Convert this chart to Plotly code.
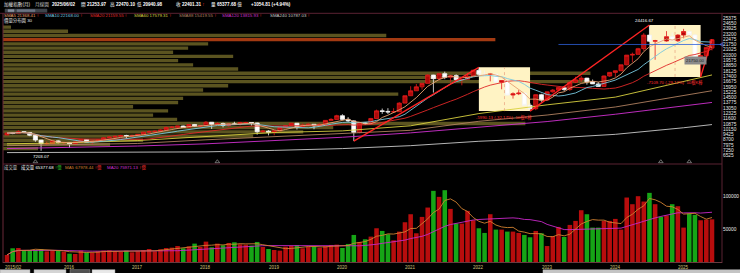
import pandas as pd
import plotly.graph_objects as go

# ---------------- data ----------------
months = [p.strftime('%Y/%m') for p in pd.period_range('2015-02', '2025-06', freq='M')]

open_ = [
    9361, 9622, 9586, 9820, 9701, 9323, 8665, 8175, 8181, 8554, 8320,
    8338, 8145, 8411, 8745, 8377, 8536, 8667, 8984, 9069, 9167, 9290, 9240,
    9254, 9448, 9750, 9812, 9872, 10041, 10395, 10427, 10586, 10384, 10794, 10560,
    10643, 11104, 10816, 10919, 10658, 10875, 10837, 11057, 11064, 11006, 9802, 9888,
    9727, 9932, 10389, 10641, 10968, 10498, 10731, 10824, 10618, 10830, 11358, 11490,
    11997, 11495, 11292, 9708, 10993, 10943, 11621, 12665, 12592, 12516, 12546, 13723,
    14733, 15410, 15953, 16431, 17567, 17068, 17755, 17247, 17490, 16935, 16987, 17428,
    18219, 17674, 17652, 17693, 16593, 16808, 14826, 15000, 15095, 13425, 12950, 14880,
    14138, 15265, 15504, 15869, 15580, 16579, 16916, 17145, 16635, 16354, 16001, 17434,
    17931, 18151, 18967, 20295, 20397, 21175, 23033, 22199, 22268, 22225, 22820, 22263,
    23035, 23525, 23053, 19802, 20235, 21253.97]
high_ = [
    9690, 9710, 10014, 9880, 9720, 9450, 8700, 8470, 8700, 8660, 8400,
    8350, 8480, 8800, 8770, 8560, 8740, 9060, 9160, 9290, 9390, 9390, 9400,
    9480, 9780, 9970, 9970, 10100, 10500, 10560, 10600, 10640, 10800, 10870, 10670,
    11270, 11100, 11110, 11050, 11000, 11170, 11150, 11160, 11100, 11050, 10060, 10030,
    10020, 10400, 10690, 11000, 11010, 10900, 10960, 10840, 10940, 11400, 11660, 12130,
    12200, 11800, 11390, 11030, 11100, 11700, 12830, 12980, 13030, 13030, 13840, 14760,
    16030, 16340, 16450, 17660, 17600, 17790, 18030, 17580, 17670, 17010, 17860, 18300,
    18619.61, 18180, 17850, 17700, 16830, 16820, 15200, 15500, 15200, 13700, 14880, 15000,
    15300, 15660, 15900, 16000, 16600, 17330, 17460, 17200, 16950, 16600, 17500, 17950,
    18170, 18980, 20300, 20640, 21290, 23300, 24416.67, 22380, 22400, 23580, 23400, 23160,
    23890, 23700, 23200, 20400, 21400, 22470.10]
low_ = [
    9340, 9470, 9550, 9580, 9200, 8430, 7203.07, 8000, 8150, 8200, 8050,
    7630, 8060, 8400, 8350, 8070, 8370, 8620, 8950, 8950, 9140, 8880, 9050,
    9220, 9440, 9700, 9670, 9830, 9980, 10290, 10260, 10310, 10360, 10460, 10400,
    10640, 10190, 10770, 10400, 10490, 10740, 10660, 10810, 10640, 9400, 9630, 9310,
    9320, 9900, 10280, 10600, 10100, 10450, 10620, 10150, 10600, 10700, 11340, 11470,
    11450, 11100, 8524, 9600, 10740, 10940, 11620, 12250, 12230, 12420, 12540, 13700,
    14720, 15400, 15570, 16430, 15160, 16810, 17000, 16580, 16700, 16160, 16950, 17400,
    17450, 17300, 16700, 16500, 15620, 14760, 14340, 14820, 13420, 12629.48, 12760, 13900,
    14120, 15150, 15400, 15380, 15400, 16470, 16600, 16250, 16330, 16000, 16000, 17330,
    17320, 18130, 18900, 19340, 20380, 20880, 22100, 19660, 20900, 22140, 22100, 22100,
    22600, 22800, 19700, 17306.97, 19900, 20940.98]
close_ = [
    9622, 9586, 9820, 9701, 9323, 8665, 8175, 8181, 8554, 8320, 8338,
    8145, 8411, 8745, 8377, 8536, 8667, 8984, 9069, 9167, 9290, 9240, 9254,
    9448, 9750, 9812, 9872, 10041, 10395, 10427, 10586, 10384, 10794, 10560, 10643,
    11104, 10816, 10919, 10658, 10875, 10837, 11057, 11064, 11006, 9802, 9888, 9727,
    9932, 10389, 10641, 10968, 10498, 10731, 10824, 10618, 10830, 11358, 11490, 11997,
    11495, 11292, 9708, 10993, 10943, 11621, 12665, 12592, 12516, 12546, 13723, 14733,
    15410, 15953, 16431, 17567, 17068, 17755, 17247, 17490, 16935, 16987, 17428, 18219,
    17674, 17652, 17693, 16593, 16808, 14826, 15000, 15095, 13425, 12950, 14880, 14138,
    15265, 15504, 15869, 15580, 16579, 16916, 17145, 16635, 16354, 16001, 17434, 17931,
    18151, 18967, 20295, 20397, 21175, 23033, 22199, 22268, 22225, 22820, 22263, 23035,
    23525, 23053, 19802, 20235, 21347, 22401.31]
volume = [  # 億
    12000, 22000, 22500, 19500, 19500, 19500, 20500, 17500, 18000, 18000, 17000,
    14000, 13500, 18500, 16000, 15500, 17500, 18500, 19000, 18000, 16500, 18500, 16000,
    17500, 19000, 21000, 17500, 20500, 22500, 23000, 25500, 22000, 25000, 29000, 24000,
    32000, 23500, 29000, 26500, 30000, 31000, 28000, 27500, 26000, 31500, 24000, 21000,
    19500, 18500, 24500, 25500, 26500, 22000, 24500, 25000, 23000, 25500, 27000, 27500,
    22500, 28500, 42000, 31500, 35500, 39500, 52000, 48000, 43000, 34000, 47000, 61000,
    73000, 44500, 69000, 83000, 108000, 99000, 109000, 81000, 59000, 59000, 78000, 64000,
    52000, 45000, 73000, 50000, 50000, 47000, 47000, 45000, 42000, 38500, 48000, 44500,
    25400, 40400, 54000, 39000, 57000, 63000, 79000, 73000, 53000, 53000, 63000, 63000,
    66000, 50000, 98000, 88000, 100000, 92000, 105000, 88000, 69000, 71000, 88000, 85000,
    53000, 74000, 72000, 64000, 65000, 65377.68]

# long moving averages at knot months
ma_knot_months = ['2015/02', '2016/01', '2017/01', '2018/01', '2019/01', '2020/01',
                  '2021/01', '2022/01', '2023/01', '2024/01', '2025/01', '2025/06']
sma60_knots = [8150, 8300, 8600, 9200, 9700, 9923, 10620, 12295, 13487, 14545, 16719, 17579]
sma88_knots = [7900, 8000, 8200, 8700, 9100, 9600, 10000, 11236, 12093, 13193, 14826, 15420]
sma120_knots = [7500, 7650, 7850, 8150, 8550, 9050, 9650, 10450, 11200, 12200, 13329, 13816]
sma240_knots = [6950, 6980, 7000, 7050, 7250, 7500, 7900, 8500, 8900, 9450, 10350, 10787]

# 價量分布圖 (30 price bins, lowest price first), volume per bin
profile_volume = [31500, 96300, 126000, 225000, 270000, 297000, 469800, 156600, 135000, 148500,
                  117000, 157500, 162000, 355500, 180000, 202500, 528300, 396000, 528300, 211500,
                  171000, 157500, 207000, 153000, 166500, 184500, 442800, 344700, 58500, 7200]

swing_boxes = [('2022/01', '2022/10'), ('2024/07', '2025/04')]
trend_lines = [('2020/03', '2022/01'), ('2022/10', '2024/07'), ('2025/04', '2025/06')]
event_months = ['2015/07', '2018/03', '2024/09', '2025/02']
crosshair_price = 21750
year_labels = ['2015/02', '2016', '2017', '2018', '2019', '2020', '2021', '2022', '2023', '2024', '2025']
year_label_months = ['2015/02', '2016/01', '2017/01', '2018/01', '2019/01', '2020/01',
                     '2021/01', '2022/01', '2023/01', '2024/01', '2025/01']
price_ticks = [6525 + 725 * k for k in range(27)]
vol_ticks = [50000, 100000]

# ---------------- geometry / style ----------------
W, H = 740, 273
def px(x): return x / W
def py(y): return 1 - y / H

XL, XR = 3, 722
Y_TOP, Y_MID, Y_BOT = 13.3, 164, 263
xmin, xmax = -0.7, 125.76
ymin, ymax = 5389, 26018
vmax = 148200

FONT = 'Liberation Sans, Noto Sans CJK TC, sans-serif'
UP_FILL, UP_LINE = '#ad0a0a', '#e41c1c'
DN_FILL, DN_LINE = '#ffffff', '#f2f2f2'
VOL_UP, VOL_DN = '#b80d0d', '#16a516'
PROF_C, PROF_CUR = '#5b5420', '#a33a12'
BOX_C = '#fff3c4'
TREND_C = '#ff2424'
BORDER = '#5a2232'
MA_COL = {'SMA5': '#e8a070', 'SMA10': '#78c8e0', 'SMA20': '#e02828', 'SMA60': '#d8d040',
          'SMA88': '#b08060', 'SMA120': '#d030d0', 'SMA240': '#c8c8c8'}

idx = list(range(len(months)))
pos = {m: i for i, m in enumerate(months)}
cs = pd.Series(close_)
vs = pd.Series(volume)

fig = go.Figure()

# volume profile (horizontal bars)
lo_all, hi_all = min(low_), max(high_)
nb = len(profile_volume)
bh = (hi_all - lo_all) / nb
centers = [lo_all + bh * (i + 0.5) for i in range(nb)]
span = 0.817 * (xmax - xmin)
pmax = max(profile_volume)
cur_bin = min(int((close_[-1] - lo_all) / bh), nb - 1)
fig.add_trace(go.Bar(orientation='h', y=centers, x=[v / pmax * span for v in profile_volume],
                     base=xmin, width=bh * 0.8,
                     marker=dict(color=[PROF_CUR if i == cur_bin else PROF_C for i in range(nb)],
                                 line=dict(width=0)),
                     xaxis='x', yaxis='y', hoverinfo='skip', showlegend=False))

# swing boxes
for a, b in swing_boxes:
    i0, i1 = pos[a], pos[b]
    top = max(high_[i0:i1 + 1]); bot = min(low_[i0:i1 + 1])
    fig.add_trace(go.Bar(x=[(i0 + i1) / 2], y=[top - bot], base=[bot], width=[i1 - i0],
                         marker=dict(color=BOX_C, line=dict(width=0)),
                         xaxis='x', yaxis='y', hoverinfo='skip', showlegend=False))

# candles
fig.add_trace(go.Candlestick(x=idx, open=open_, high=high_, low=low_, close=close_,
                             increasing=dict(line=dict(color=UP_LINE, width=0.8), fillcolor=UP_FILL),
                             decreasing=dict(line=dict(color=DN_LINE, width=0.8), fillcolor=DN_FILL),
                             whiskerwidth=0, xaxis='x', yaxis='y', hoverinfo='skip', showlegend=False))

# moving averages
kx = [pos[m] for m in ma_knot_months]
for name, vals in [('SMA240', sma240_knots), ('SMA120', sma120_knots),
                   ('SMA88', sma88_knots), ('SMA60', sma60_knots)]:
    fig.add_trace(go.Scatter(x=kx, y=vals, mode='lines', line=dict(color=MA_COL[name], width=0.9),
                             xaxis='x', yaxis='y', hoverinfo='skip', showlegend=False))
for name, n in [('SMA20', 20), ('SMA10', 10), ('SMA5', 5)]:
    fig.add_trace(go.Scatter(x=idx, y=cs.rolling(n, min_periods=1).mean(), mode='lines',
                             line=dict(color=MA_COL[name], width=0.9),
                             xaxis='x', yaxis='y', hoverinfo='skip', showlegend=False))

# box middle dashed lines + labels
annotations = []
for a, b in swing_boxes:
    i0, i1 = pos[a], pos[b]
    top = max(high_[i0:i1 + 1]); bot = min(low_[i0:i1 + 1])
    fig.add_trace(go.Scatter(x=[(i0 + i1) / 2] * 2, y=[bot, top], mode='lines',
                             line=dict(color='#e8a080', width=0.7, dash='dot'),
                             xaxis='x', yaxis='y', hoverinfo='skip', showlegend=False))
    d = bot - top
    annotations.append(dict(x=(i0 + i1) / 2, y=bot, xref='x', yref='y', yanchor='top', yshift=-0.5,
                            text=f'{d:.2f} ({d / top * 100:.2f}%)  {i1 - i0 + 1}根K棒',
                            showarrow=False, font=dict(size=4.3, color='#ff3030', family=FONT)))

# trend lines
for a, b in trend_lines:
    fig.add_trace(go.Scatter(x=[pos[a], pos[b]], y=[low_[pos[a]], high_[pos[b]]], mode='lines',
                             line=dict(color=TREND_C, width=1.3),
                             xaxis='x', yaxis='y', hoverinfo='skip', showlegend=False))

# crosshair
fig.add_trace(go.Scatter(x=[97, xmax], y=[crosshair_price] * 2, mode='lines',
                         line=dict(color='#2c5fd8', width=0.8),
                         xaxis='x', yaxis='y', hoverinfo='skip', showlegend=False))
fig.add_trace(go.Scatter(x=[xmax], y=[crosshair_price], mode='markers', cliponaxis=False,
                         marker=dict(symbol='triangle-left', size=5, color='#3a6ff0'),
                         xaxis='x', yaxis='y', hoverinfo='skip', showlegend=False))
# event markers
fig.add_trace(go.Scatter(x=[pos[m] for m in event_months], y=[5700] * len(event_months),
                         mode='markers', marker=dict(symbol='triangle-up-open', size=4, color='#8a8a8a',
                                                     line=dict(width=0.8)),
                         xaxis='x', yaxis='y', hoverinfo='skip', showlegend=False))

# volume
vcol = [VOL_UP if c >= o else VOL_DN for o, c in zip(open_, close_)]
fig.add_trace(go.Bar(x=idx, y=volume, width=0.8, marker=dict(color=vcol, line=dict(width=0)),
                     xaxis='x2', yaxis='y2', hoverinfo='skip', showlegend=False))
fig.add_trace(go.Scatter(x=idx, y=vs.rolling(20, min_periods=1).mean(), mode='lines',
                         line=dict(color='#c828c8', width=0.9), xaxis='x2', yaxis='y2',
                         hoverinfo='skip', showlegend=False))
fig.add_trace(go.Scatter(x=idx, y=vs.rolling(5, min_periods=1).mean(), mode='lines',
                         line=dict(color='#d08030', width=0.9), xaxis='x2', yaxis='y2',
                         hoverinfo='skip', showlegend=False))

# ---------------- text ----------------
def txt(x, y, s, color='#ffffff', size=4.6, anchor='left'):
    annotations.append(dict(x=px(x), y=py(y), xref='paper', yref='paper', xanchor=anchor,
                            yanchor='middle', text=s, showarrow=False,
                            font=dict(size=size, color=color, family=FONT)))

txt(2, 4.5, '加權指數(月)', '#e0e0e0')
txt(33, 4.5, '月線圖', '#c0c0c0')
txt(50, 4.5, '<b>2025/06/02</b>')
txt(79, 4.5, '開 <b>21253.97</b>', '#ffffff')
txt(108, 4.5, '高 <b>22470.10</b>', '#ffffff')
txt(135, 4.5, '低 <b>20940.98</b>', '#ffffff')
txt(174, 4.5, '收 <b>22401.31</b> <span style="color:#ff2020">↑</span>', '#ffffff')
txt(209, 4.5, '量 <b>65377.68</b> 億', '#ffffff')
txt(249, 4.5, '<b>+1054.81 (+4.94%)</b>', '#ffffff')

ma_vals = [('SMA5', '21368.41', 2), ('SMA10', '22168.00', 43), ('SMA20', '21159.55', 88),
           ('SMA60', '17579.31', 132), ('SMA88', '15419.55', 177), ('SMA120', '13815.93', 220),
           ('SMA240', '10787.03', 268)]
for name, v, x in ma_vals:
    txt(x, 15.5, f'{name} {v} <span style="color:#ff3030">↑</span>', MA_COL[name], 4.4)
txt(2, 20.5, '價量分布圖 30', '#e0e0e0', 4.4)
txt(2, 167, '成交量', '#d0d0d0', 4.4)
txt(19, 167, '成交量 65377.68 <span style="color:#30d030">↑億</span>', '#ffffff', 4.4)
txt(63, 167, 'MA5 67978.44 <span style="color:#ff3030">↑億</span>', '#d08030', 4.4)
txt(105, 167, 'MA20 75971.13 <span style="color:#ff3030">↑億</span>', '#d030d0', 4.4)

# tooltip at crosshair
annotations.append(dict(x=px(707), y=py(56.5), xref='paper', yref='paper', text='21750.00',
                        showarrow=False, bgcolor='#8a8a8a', borderpad=1,
                        font=dict(size=4.3, color='#202020', family=FONT)))

# extreme labels
ih = high_.index(max(high_)); il = low_.index(min(low_))
annotations.append(dict(x=ih, y=high_[ih], xref='x', yref='y', yanchor='bottom', xshift=-5,
                        text=f'{high_[ih]:.2f}', showarrow=False,
                        font=dict(size=4.4, color='#ffffff', family=FONT)))
annotations.append(dict(x=il, y=low_[il], xref='x', yref='y', yanchor='top', yshift=-1,
                        text=f'{low_[il]:.2f}', showarrow=False,
                        font=dict(size=4.4, color='#ffffff', family=FONT)))

# year labels
for k, (lab, m) in enumerate(zip(year_labels, year_label_months)):
    annotations.append(dict(x=xmin if k == 0 else pos[m], y=py(267.5), xref='x2', yref='paper',
                            xanchor='left' if k == 0 else 'center', yanchor='middle',
                            text=lab, showarrow=False,
                            font=dict(size=4.5, color='#cfc07a', family=FONT)))

# ---------------- frame shapes ----------------
shapes = []
def line(x0, y0, x1, y1, c=BORDER, w=1):
    shapes.append(dict(type='line', xref='paper', yref='paper', x0=px(x0), y0=py(y0),
                       x1=px(x1), y1=py(y1), line=dict(color=c, width=w), layer='above'))
def rect(x0, y0, x1, y1, fill, lc=None):
    shapes.append(dict(type='rect', xref='paper', yref='paper', x0=px(x0), y0=py(y0),
                       x1=px(x1), y1=py(y1), fillcolor=fill,
                       line=dict(color=lc or fill, width=0.5), layer='above'))

line(0, Y_TOP, W, Y_TOP)
line(XR, Y_TOP, XR, Y_BOT)
line(XL, Y_TOP, XL, Y_BOT, '#6a2838')
line(XL, Y_MID, XR, Y_MID)
line(XL, Y_BOT - 0.5, XR, Y_BOT - 0.5, '#6a3a40')
# small toolbars
rect(5, 9, 47, 12.3, '#3e444c')
rect(8, 9.6, 14, 11.7, '#8890a0')
rect(17, 9.6, 35, 11.7, '#6a7484')
rect(0, 269.6, 30, 273.5, '#d4d4d4', '#909090')
rect(34, 269.6, 66, 273.5, '#d4d4d4', '#909090')
rect(70, 269.6, 90, 273.5, '#505050', '#909090')
rect(92, 269.6, 115, 273.5, '#e8e8e8', '#909090')
rect(543, 269.8, 740, 273.5, '#c4c4c4', '#c4c4c4')

fig.update_layout(
    width=W, height=H, margin=dict(l=0, r=0, t=0, b=0),
    paper_bgcolor='#000000', plot_bgcolor='#000000',
    barmode='overlay', boxgap=0.28, boxgroupgap=0, showlegend=False,
    xaxis=dict(domain=[px(XL), px(XR)], range=[xmin, xmax], anchor='y', showticklabels=False,
               showgrid=False, zeroline=False, rangeslider=dict(visible=False), fixedrange=True),
    yaxis=dict(domain=[py(Y_MID), py(Y_TOP)], range=[ymin, ymax], anchor='x', side='right',
               tickmode='array', tickvals=price_ticks, ticktext=[str(v) for v in price_ticks],
               tickfont=dict(size=4.8, color='#e8e8e8', family=FONT), ticks='',
               showgrid=False, zeroline=False, automargin=False),
    xaxis2=dict(domain=[px(XL), px(XR)], range=[xmin, xmax], anchor='y2', showticklabels=False,
                showgrid=False, zeroline=False),
    yaxis2=dict(domain=[py(Y_BOT), py(Y_MID)], range=[0, vmax], anchor='x2', side='right',
                tickmode='array', tickvals=vol_ticks, ticktext=[str(v) for v in vol_ticks],
                tickfont=dict(size=4.8, color='#e8e8e8', family=FONT), ticks='',
                showgrid=False, zeroline=False, automargin=False),
    annotations=annotations, shapes=shapes,
)

fig.write_html('out.html')
